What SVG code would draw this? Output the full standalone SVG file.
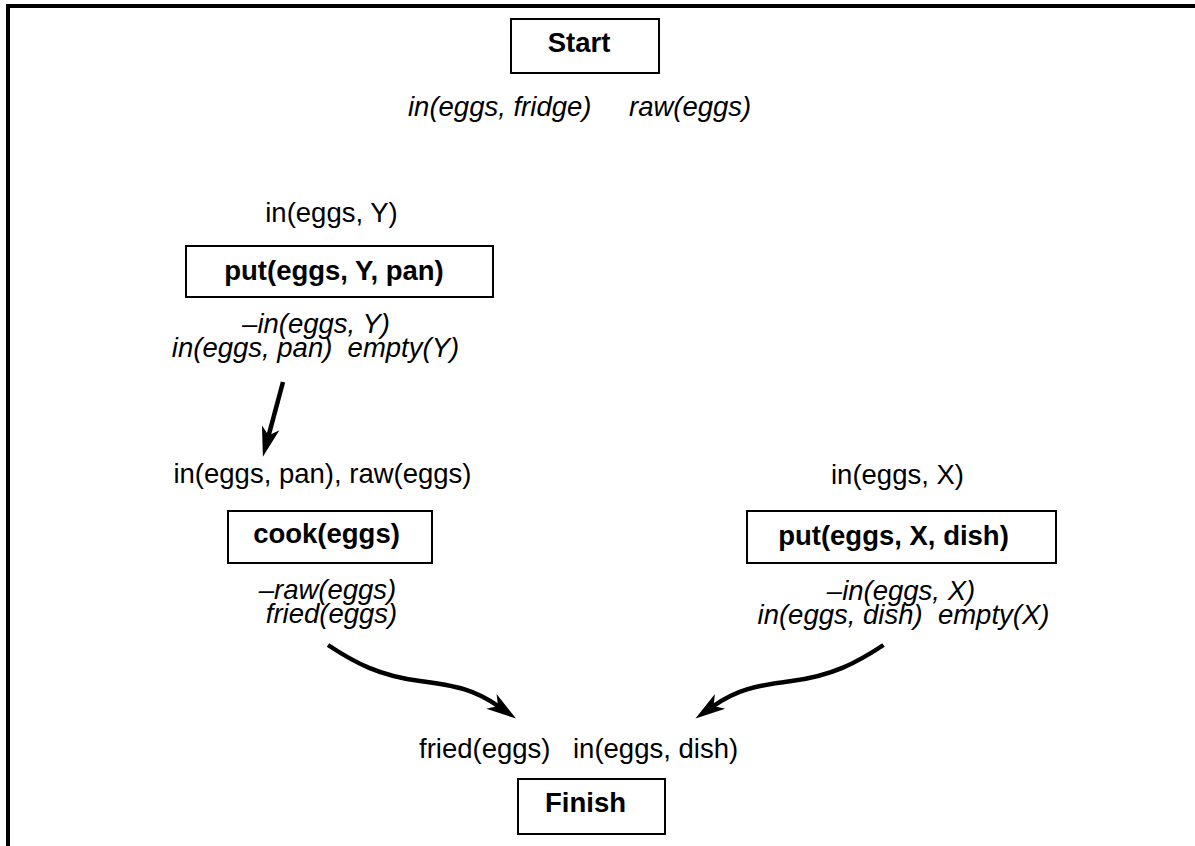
<svg xmlns="http://www.w3.org/2000/svg" width="1195" height="846" viewBox="0 0 1195 846">
<style>
text{font-family:"Liberation Sans",Arial,Helvetica,sans-serif;font-size:27.5px;fill:#000}
.b{font-weight:bold}
.i{font-style:italic}
.box{fill:#fff;stroke:#000;stroke-width:2}
.arr{fill:none;stroke:#000;stroke-width:4.5}
</style>
<defs>
<marker id="ah" markerUnits="userSpaceOnUse" markerWidth="32" markerHeight="20" refX="8" refY="9" orient="auto" overflow="visible">
<path d="M0,0 L30,9 L0,18 L8,9 Z" fill="#000"/>
</marker>
</defs>
<rect width="1195" height="846" fill="#fff"/>
<path d="M8,846 V6 H1195" fill="none" stroke="#000" stroke-width="4"/>

<g id="start">
<rect class="box" x="511" y="19" width="148" height="54"/>
<text class="b" x="579" y="52" text-anchor="middle">Start</text>
<text class="i" x="408" y="116">in(eggs, fridge)</text>
<text class="i" x="629" y="116">raw(eggs)</text>
</g>

<g id="put-y">
<text x="331.5" y="222" text-anchor="middle">in(eggs, Y)</text>
<rect class="box" x="186" y="246" width="307" height="51"/>
<text class="b" x="334" y="280" text-anchor="middle">put(eggs, Y, pan)</text>
<text class="i" x="316" y="333" text-anchor="middle">–in(eggs, Y)</text>
<text class="i" x="315.5" y="357" text-anchor="middle" xml:space="preserve">in(eggs, pan)  empty(Y)</text>
</g>

<g id="cook">
<text x="322.5" y="483" text-anchor="middle">in(eggs, pan), raw(eggs)</text>
<rect class="box" x="228" y="511" width="204" height="52"/>
<text class="b" x="326.5" y="543" text-anchor="middle">cook(eggs)</text>
<text class="i" x="327.5" y="599" text-anchor="middle">–raw(eggs)</text>
<text class="i" x="331.5" y="623" text-anchor="middle">fried(eggs)</text>
</g>

<g id="put-x">
<text x="897.5" y="484" text-anchor="middle">in(eggs, X)</text>
<rect class="box" x="747" y="511" width="309" height="52"/>
<text class="b" x="893.5" y="545" text-anchor="middle">put(eggs, X, dish)</text>
<text class="i" x="901" y="600" text-anchor="middle">–in(eggs, X)</text>
<text class="i" x="903.5" y="624" text-anchor="middle" xml:space="preserve">in(eggs, dish)  empty(X)</text>
</g>

<g id="finish">
<text x="419" y="758">fried(eggs)</text>
<text x="573" y="758">in(eggs, dish)</text>
<rect class="box" x="518" y="779" width="147" height="55"/>
<text class="b" x="585.5" y="812" text-anchor="middle">Finish</text>
</g>

<g id="connectors">
<path class="arr" d="M283,382 L268.6,435.6" marker-end="url(#ah)"/>
<path class="arr" d="M328,645 C355,663 380,676 420,681 C458,686 475,690 498,706" marker-end="url(#ah)"/>
<path class="arr" d="M883.5,645 C856.5,663 831.5,676 791.5,681 C753.5,686 736.5,690 713.5,706" marker-end="url(#ah)"/>
</g>
</svg>
